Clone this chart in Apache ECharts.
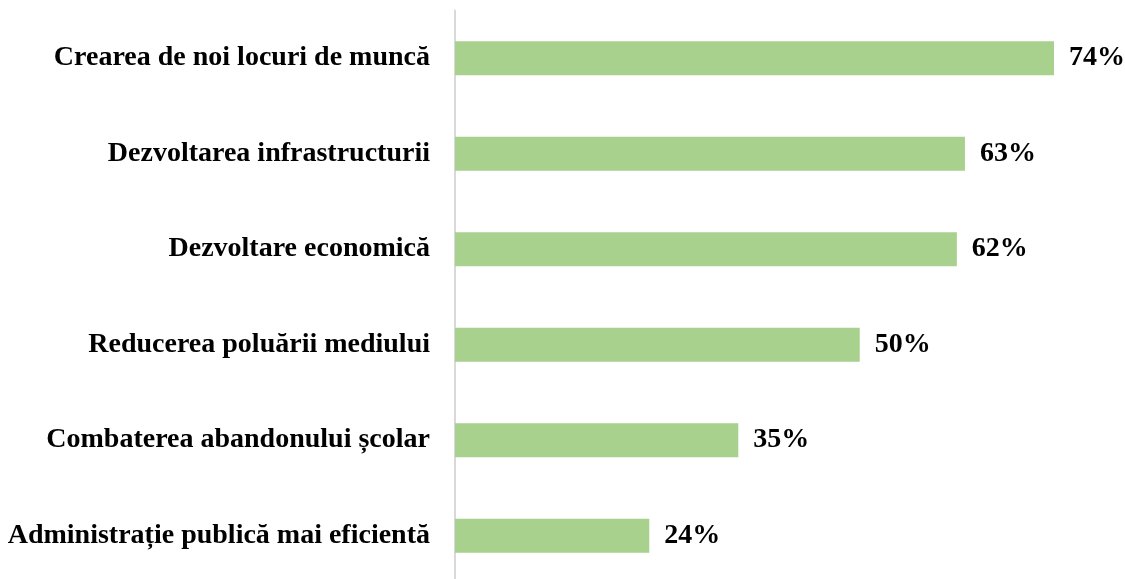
<!DOCTYPE html>
<html>
<head>
<meta charset="utf-8">
<script src="https://cdn.jsdelivr.net/npm/echarts@6/dist/echarts.min.js"></script>
<style>
  html, body { margin: 0; padding: 0; background: #fff; overflow: hidden; }
  #chart { width: 1125px; height: 590px; }
</style>
</head>
<body>
<div id="chart"></div>
<script>
// categories listed bottom to top (category axis on y starts at the bottom)
let categories = [
    'Administrație publică mai eficientă',
    'Combaterea abandonului școlar',
    'Reducerea poluării mediului',
    'Dezvoltare economică',
    'Dezvoltarea infrastructurii',
    'Crearea de noi locuri de muncă'
];
let values = [24, 35, 50, 62, 63, 74];

let fontFamily = '"Liberation Serif", "Times New Roman", serif';

let chart = echarts.init(document.getElementById('chart'));

// the chart box is a bit taller than the window so the axis runs off the bottom edge
chart.setOption({
    animation: false,
    grid: {
        left: 455,
        top: 10.5,
        height: 573,
        right: 0
    },
    xAxis: {
        type: 'value',
        min: 0,
        max: 82.77,
        show: false
    },
    yAxis: {
        type: 'category',
        data: categories,
        axisLine: {
            show: true,
            lineStyle: { color: '#d9d9d9', width: 2 }
        },
        axisTick: { show: false },
        axisLabel: {
            margin: 25,
            color: '#000',
            fontFamily: fontFamily,
            fontWeight: 'bold',
            fontSize: 28
        }
    },
    series: [
        {
            type: 'bar',
            data: values,
            barWidth: 34,
            itemStyle: { color: '#a9d18e' },
            label: {
                show: true,
                position: 'right',
                distance: 15,
                formatter: '{c}%',
                color: '#000',
                fontFamily: fontFamily,
                fontWeight: 'bold',
                fontSize: 28
            }
        }
    ]
});
</script>
</body>
</html>
